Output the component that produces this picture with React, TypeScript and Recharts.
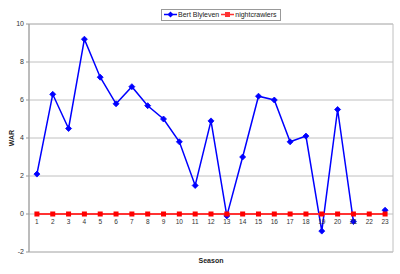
import React from 'react'
import {CartesianGrid, Legend, Line, LineChart, ReferenceArea, XAxis, YAxis} from 'recharts'

const seasons = ['1', '2', '3', '4', '5', '6', '7', '8', '9', '10', '11', '12', '13', '14', '15', '16', '17', '18', '19', '20', '21', '22', '23']
const blyleven = [2.1, 6.3, 4.5, 9.2, 7.2, 5.8, 6.7, 5.7, 5.0, 3.8, 1.5, 4.9, -0.1, 3.0, 6.2, 6.0, 3.8, 4.1, -0.9, 5.5, -0.4, null, 0.2]
const nightcrawlers = [0, 0, 0, 0, 0, 0, 0, 0, 0, 0, 0, 0, 0, 0, 0, 0, 0, 0, 0, 0, 0, 0, 0]
const yTicks = [-2, 0, 2, 4, 6, 8, 10]

const data = seasons.map((season, i) => ({
    season,
    'Bert Blyleven': blyleven[i],
    nightcrawlers: nightcrawlers[i],
}))

const FONT = '"Liberation Sans", Arial, sans-serif'

const Diamond = ({cx, cy, key}: any) => {
    if (cx == null || cy == null) return <g key={key} />
    return <polygon key={key} points={`${cx},${cy - 3} ${cx + 3},${cy} ${cx},${cy + 3} ${cx - 3},${cy}`} fill="#0000ff" stroke="#0000ff" strokeWidth={0.8} />
}

const Square = ({cx, cy, key}: any) => {
    if (cx == null || cy == null) return <g key={key} />
    return <rect key={key} x={cx - 2.5} y={cy - 2.5} width={5} height={5} fill="#ff0000" />
}

// category labels sit on the zero line, like Excel does
const SeasonTick = ({x, y, payload}: any) => (
    <text x={x} y={y - 28} textAnchor="middle" fontSize={6.5} fill="#333" fontFamily={FONT}>{payload.value}</text>
)

const renderLegend = (props: any) => (
    <div style={{display: 'inline-flex', alignItems: 'center', border: '1px solid #999', background: '#fff', height: 10, padding: '0 2px 0 1px', fontSize: 7, fontFamily: FONT, color: '#222', whiteSpace: 'nowrap'}}>
        {props.payload.map((entry: any) => (
            <span key={entry.value} style={{display: 'inline-flex', alignItems: 'center'}}>
                <svg width={15} height={7}>
                    <line x1={1} y1={3.5} x2={14} y2={3.5} stroke={entry.color} strokeWidth={1.5} />
                    {entry.value === 'nightcrawlers'
                        ? <rect x={5} y={1} width={5} height={5} fill={entry.color} />
                        : <polygon points="7.5,0.5 10.5,3.5 7.5,6.5 4.5,3.5" fill={entry.color} />}
                </svg>
                <span style={{marginRight: 1}}>{entry.value}</span>
            </span>
        ))}
    </div>
)

const App = () => {
    return (
        <div style={{position: 'absolute', top: 0, left: 0, background: '#fff'}}>
            <LineChart width={400} height={274} data={data} margin={{top: 24, right: 7, bottom: 0, left: 0}}>
                <CartesianGrid vertical={false} stroke="#c0c0c0" />
                <ReferenceArea y1={-2} y2={10} fill="none" stroke="#c0c0c0" />
                <XAxis dataKey="season" scale="band" height={22} axisLine={false} tickLine={false} tickSize={0} tickMargin={0}
                       interval={0} tick={<SeasonTick />}
                       label={{value: 'Season', position: 'insideTop', offset: 6, fontSize: 7, fontWeight: 'bold', fill: '#222', fontFamily: FONT}} />
                <YAxis width={29} domain={[-2, 10]} ticks={yTicks} interval={0} stroke="#999" tickSize={3} tickMargin={2}
                       tick={{fontSize: 7, fill: '#333', fontFamily: FONT}}
                       label={{value: 'WAR', angle: -90, position: 'center', dx: -3, fontSize: 7, fontWeight: 'bold', fill: '#222', fontFamily: FONT}} />
                <Legend verticalAlign="middle" align="center" layout="horizontal" content={renderLegend}
                        wrapperStyle={{top: 4, left: 161, width: 'auto'}} />
                <Line dataKey="Bert Blyleven" stroke="#0000ff" strokeWidth={1.5} dot={Diamond} activeDot={false} isAnimationActive={false} />
                <Line dataKey="nightcrawlers" stroke="#ff3333" strokeWidth={2} dot={Square} activeDot={false} isAnimationActive={false} />
            </LineChart>
        </div>
    )
}

export default App
